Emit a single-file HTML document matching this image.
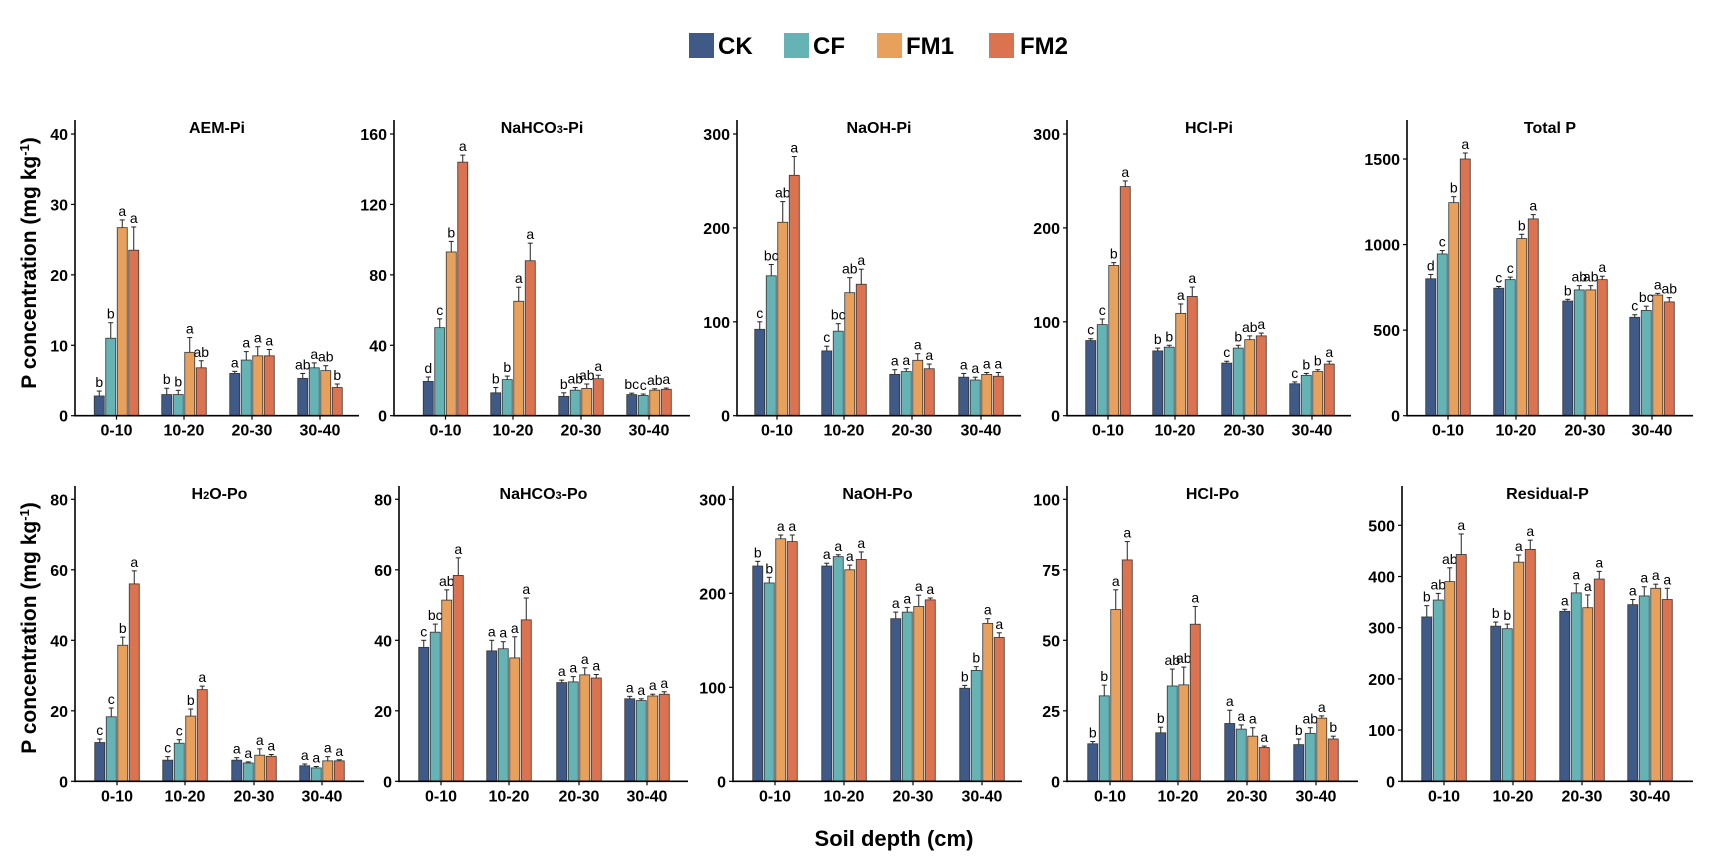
<!DOCTYPE html>
<html><head><meta charset="utf-8"><style>
html,body{margin:0;padding:0;background:#fff;}
svg{display:block;font-family:"Liberation Sans",Arial,sans-serif;}
</style></head><body>
<svg id="s" width="1711" height="862" viewBox="0 0 1711 862" xmlns="http://www.w3.org/2000/svg">
<rect width="1711" height="862" fill="#fff"/>
<g font-weight="bold" font-size="24">
<rect x="689" y="33" width="25" height="25" fill="#3f5a87"/><text x="718" y="54">CK</text>
<rect x="784" y="33" width="25" height="25" fill="#66b3b5"/><text x="813" y="54">CF</text>
<rect x="877" y="33" width="25" height="25" fill="#e7a15d"/><text x="906" y="54">FM1</text>
<rect x="989" y="33" width="25" height="25" fill="#dc7350"/><text x="1020" y="54">FM2</text>
</g>
<text x="894" y="846" text-anchor="middle" font-weight="bold" font-size="22">Soil depth (cm)</text>
<text transform="translate(36,263) rotate(-90)" text-anchor="middle" font-weight="bold" font-size="21">P concentration (mg kg<tspan dy="-7" font-size="13">-1</tspan><tspan dy="7">)</tspan></text>
<text transform="translate(36,628) rotate(-90)" text-anchor="middle" font-weight="bold" font-size="21">P concentration (mg kg<tspan dy="-7" font-size="13">-1</tspan><tspan dy="7">)</tspan></text>
<g id="g"></g>
</svg>
<script>
var C=["#3f5a87","#66b3b5","#e7a15d","#dc7350"];
var P=[
{t:"AEM-Pi",ax:75,end:359,cats:[116.5,184,252,320],base:415.7,top:120,tt:134,tmax:40,ticks:[0,10,20,30,40],
d:[[[2.8,.7,"b"],[11,2.2,"b"],[26.7,1.1,"a"],[23.5,3.3,"a"]],[[3,.9,"b"],[3,.6,"b"],[9,2.1,"a"],[6.8,1,"ab"]],[[6,.3,"a"],[7.9,1.2,"a"],[8.5,1.3,"a"],[8.5,.9,"a"]],[[5.3,.7,"ab"],[6.8,.7,"a"],[6.4,.7,"ab"],[4,.5,"b"]]]},
{t:"NaHCO<tspan font-size='11'>3</tspan>-Pi",ax:394,end:690,cats:[445.5,513,581,649],base:415.7,top:120,tt:134,tmax:160,ticks:[0,40,80,120,160],
d:[[[19.5,2.5,"d"],[50,5,"c"],[93,6,"b"],[144,4,"a"]],[[13,3,"b"],[20.5,2,"b"],[65,8,"a"],[88,10,"a"]],[[11,2,"b"],[14.5,1.5,"ab"],[15.5,2.5,"ab"],[21,2,"a"]],[[12,.8,"bc"],[11.5,.8,"c"],[14.5,.8,"ab"],[15,.7,"a"]]]},
{t:"NaOH-Pi",ax:737,end:1021,cats:[777,844,912,981],base:415.7,top:120,tt:134,tmax:300,ticks:[0,100,200,300],
d:[[[92,8,"c"],[149,12,"bc"],[206,22,"ab"],[256,20,"a"]],[[69,5,"c"],[90,8,"bc"],[131,16,"ab"],[140,16,"a"]],[[44,5,"a"],[47,3,"a"],[59,7,"a"],[50,5,"a"]],[[41,4,"a"],[38,3,"a"],[44,2,"a"],[42,4,"a"]]]},
{t:"HCl-Pi",ax:1067,end:1351,cats:[1108,1175,1244,1312],base:415.7,top:120,tt:134,tmax:300,ticks:[0,100,200,300],
d:[[[80,2,"c"],[97,6,"c"],[160,3,"b"],[244,6,"a"]],[[69,3,"b"],[73,2,"b"],[109,10,"a"],[127,10,"a"]],[[56,2,"c"],[72,3,"b"],[81,4,"ab"],[85,3,"a"]],[[34,2,"c"],[43,2,"b"],[47,2,"b"],[55,3,"a"]]]},
{t:"Total P",ax:1407,end:1693,cats:[1448,1516,1585,1652],base:415.7,top:120,tt:159,tmax:1500,ticks:[0,500,1000,1500],
d:[[[800,25,"d"],[945,20,"c"],[1245,35,"b"],[1500,35,"a"]],[[745,10,"c"],[795,15,"c"],[1035,25,"b"],[1150,25,"a"]],[[670,10,"b"],[735,25,"ab"],[735,25,"ab"],[795,20,"a"]],[[575,15,"c"],[615,25,"bc"],[705,10,"a"],[665,25,"ab"]]]},
{t:"H<tspan font-size='11'>2</tspan>O-Po",ax:75,end:364,cats:[117,185,254,322],base:781.3,top:486,tt:499.3,tmax:80,ticks:[0,20,40,60,80],
d:[[[11,1,"c"],[18.3,2.5,"c"],[38.6,2.3,"b"],[56,3.7,"a"]],[[6,1,"c"],[10.8,1,"c"],[18.5,2,"b"],[26,1,"a"]],[[6,.7,"a"],[5.2,.3,"a"],[7.4,1.8,"a"],[7.1,.5,"a"]],[[4.4,.5,"a"],[3.8,.4,"a"],[5.8,1.2,"a"],[5.8,.3,"a"]]]},
{t:"NaHCO<tspan font-size='11'>3</tspan>-Po",ax:399,end:688,cats:[441,509,579,647],base:781.3,top:486,tt:499.3,tmax:80,ticks:[0,20,40,60,80],
d:[[[38,2,"c"],[42.3,2.3,"bc"],[51.4,2.9,"ab"],[58.4,5,"a"]],[[37,3,"a"],[37.6,2,"a"],[35,6,"a"],[45.8,6.2,"a"]],[[28,.7,"a"],[28.2,1.5,"a"],[30.2,2,"a"],[29.3,1,"a"]],[[23.4,.7,"a"],[22.9,.5,"a"],[24.2,.5,"a"],[24.7,.7,"a"]]]},
{t:"NaOH-Po",ax:733,end:1022,cats:[775,844,913,982],base:781.3,top:486,tt:499.3,tmax:300,ticks:[0,100,200,300],
d:[[[229,5,"b"],[211,6,"b"],[258,4,"a"],[255,7,"a"]],[[229,3,"a"],[239,2,"a"],[225,5,"a"],[236,8,"a"]],[[173,7,"a"],[180,5,"a"],[186,12,"a"],[193,2,"a"]],[[99,3,"b"],[118,4,"b"],[168,5,"a"],[153,5,"a"]]]},
{t:"HCl-Po",ax:1067,end:1358,cats:[1110,1178,1247,1316],base:781.3,top:486,tt:499.3,tmax:100,ticks:[0,25,50,75,100],
d:[[[13.3,.8,"b"],[30.3,3.8,"b"],[60.9,7,"a"],[78.5,6.5,"a"]],[[17.2,2,"b"],[33.8,6,"ab"],[34.2,6.3,"ab"],[55.7,6.3,"a"]],[[20.5,4.7,"a"],[18.5,1.5,"a"],[16,3,"a"],[12,.5,"a"]],[[13,2,"b"],[17,2,"ab"],[22.4,.8,"a"],[15,1,"b"]]]},
{t:"Residual-P",ax:1402,end:1693,cats:[1444,1513,1582,1650],base:781.3,top:486,tt:525.3,tmax:500,ticks:[0,100,200,300,400,500],
d:[[[321,22,"b"],[354,13,"ab"],[390,27,"ab"],[443,40,"a"]],[[303,8,"b"],[298,9,"b"],[428,14,"a"],[453,18,"a"]],[[332,4,"a"],[368,18,"a"],[339,25,"a"],[395,15,"a"]],[[345,10,"a"],[362,18,"a"],[377,8,"a"],[355,22,"a"]]]}
];
var labs=["0-10","10-20","20-30","30-40"];
var h="";
P.forEach(function(p){
 var sc=(p.base-p.tt)/p.tmax;
 function Y(v){return p.base-v*sc;}
 h+='<text x="'+((p.ax+p.end)/2)+'" y="'+(p.top+13)+'" text-anchor="middle" font-weight="bold" font-size="16">'+p.t+'</text>';
 p.d.forEach(function(g,i){
  var cx=p.cats[i];
  g.forEach(function(b,j){
   var x=cx+(j-1.5)*11.5, y=Y(b[0]), ye=Y(b[0]+b[1]);
   h+='<line x1="'+x+'" y1="'+y+'" x2="'+x+'" y2="'+ye+'" stroke="#222" stroke-width="1"/>';
   h+='<line x1="'+(x-2.5)+'" y1="'+ye+'" x2="'+(x+2.5)+'" y2="'+ye+'" stroke="#222" stroke-width="1"/>';
   h+='<rect x="'+(x-5)+'" y="'+y+'" width="10" height="'+(p.base-y)+'" fill="'+C[j]+'" stroke="#333" stroke-width="0.8"/>';
   h+='<text x="'+x+'" y="'+(ye-4)+'" text-anchor="middle" font-size="14">'+b[2]+'</text>';
  });
  h+='<line x1="'+cx+'" y1="'+p.base+'" x2="'+cx+'" y2="'+(p.base+4)+'" stroke="#000" stroke-width="1.2"/>';
  h+='<text x="'+cx+'" y="'+(p.base+20)+'" text-anchor="middle" font-weight="bold" font-size="16">'+labs[i]+'</text>';
 });
 p.ticks.forEach(function(t){
  var y=Y(t);
  h+='<line x1="'+(p.ax-4)+'" y1="'+y+'" x2="'+p.ax+'" y2="'+y+'" stroke="#000" stroke-width="1.2"/>';
  h+='<text x="'+(p.ax-7)+'" y="'+(y+6)+'" text-anchor="end" font-weight="bold" font-size="16">'+t+'</text>';
 });
 h+='<line x1="'+p.ax+'" y1="'+p.top+'" x2="'+p.ax+'" y2="'+(p.base+0.8)+'" stroke="#000" stroke-width="1.6"/>';
 h+='<line x1="'+(p.ax-0.8)+'" y1="'+p.base+'" x2="'+p.end+'" y2="'+p.base+'" stroke="#000" stroke-width="1.6"/>';
});
document.getElementById("g").innerHTML=h;
</script>
</body></html>
